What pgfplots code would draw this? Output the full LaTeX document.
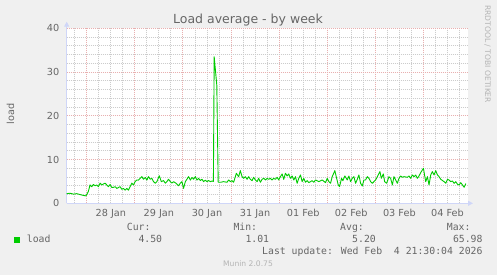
\documentclass[border=0pt]{standalone}
\usepackage{pgfplots}
\pgfplotsset{compat=1.18}
\usepackage{fontspec}
\setmainfont{DejaVu Sans}
\newfontfamily\monofont{DejaVu Sans Mono}
\usetikzlibrary{arrows.meta}
\definecolor{bg}{HTML}{F0F0F0}
\definecolor{fontc}{HTML}{666666}
\definecolor{axc}{HTML}{CFD6F8}
\definecolor{gridc}{HTML}{CCCCCC}
\definecolor{mgridc}{HTML}{E8B0B0}
\definecolor{loadc}{HTML}{00CC00}
\definecolor{wm}{HTML}{B4B4B4}
\pgfplotstableread{
h v
-10 2.2
-8.35 2.3
-6.7 2.1
-5 2.2
-3.35 2.0
-1.7 1.8
-0.35 1.7
0.8 2.7
1.65 4.2
2.5 3.8
3.3 4.3
4.2 4.0
5 4.2
5.8 3.8
6.65 4.6
7.5 4.2
8.3 4.4
9.15 4.6
10 4.2
10.8 3.8
11.65 4.3
12.5 3.6
13.3 3.65
14.15 3.8
15 3.4
15.8 3.6
16.65 3.8
17.5 3.2
18.3 3.4
19.15 3.0
20 3.4
20.8 3.0
21.65 3.8
22.5 4.6
23.3 4.2
24.15 4.95
25 5.33
25.8 5.3
26.65 5.7
27.5 6.1
28.3 5.5
29.2 5.9
30 5.3
30.8 6.1
31.7 5.5
32.5 5.7
33.3 4.95
34.2 4.6
35 4.95
36.2 6.3
37.2 4.95
38.3 5.2
39.2 4.6
40 4.95
40.8 5.5
41.7 4.95
42.5 4.6
43.3 4.95
44.2 4.7
45 4.4
45.8 4.0
46.7 4.6
47.5 4.95
48.3 3.4
49.2 4.95
50 5.5
50.8 6.1
51.7 5.3
52.5 5.9
53.3 5.5
54.2 6.1
55 5.3
55.8 5.7
56.7 5.2
57.5 5.5
58.3 4.95
59.2 5.3
60 4.95
60.8 5.2
61.7 4.95
62.5 5.1
63.2 5.0
63.6 33.5
64.3 30.0
64.9 27.0
65.6 4.8
66.65 4.8
68.3 4.95
70 4.8
70.8 5.33
71.65 4.95
72.5 5.18
73.3 4.8
74.65 6.86
75.8 6.09
76.65 7.47
77.5 6.09
78.3 5.71
79.15 6.09
80 5.48
80.8 6.09
81.65 5.48
82.5 5.18
83.3 5.94
84.15 5.33
85 4.95
85.8 5.71
86.65 4.8
87.5 5.48
88.3 5.71
89.15 5.33
90 5.71
90.8 5.48
91.65 5.71
92.5 5.33
93.3 5.71
94.15 5.48
95 5.94
95.8 5.33
96.65 6.09
97.5 6.71
98.3 5.48
99.15 6.86
100 6.25
100.8 6.71
101.65 5.71
102.5 6.25
103.3 5.33
104.15 6.09
105 4.57
105.8 5.71
106.65 6.48
107.5 4.95
108.3 5.71
109.15 4.8
110 5.18
110.8 4.72
112.5 5.18
113.3 4.8
114.15 5.33
115.8 4.95
117.5 5.33
119.15 4.72
120 5.71
120.8 4.95
121.65 4.57
122.5 6.09
123.8 7.47
124.5 6.09
125.5 4.19
126.15 3.81
127.15 5.71
127.8 5.18
128.8 6.25
130 5.33
130.8 6.25
131.65 4.95
132.5 5.71
133.3 6.09
134.15 4.57
135 5.48
135.8 6.48
136.65 4.57
137.5 3.96
138.3 5.33
139.15 5.33
140 6.09
140.8 5.71
141.65 4.95
142.5 4.57
144.15 5.33
145 6.09
146.3 7.24
147 5.71
148 6.71
148.65 4.95
149.65 4.57
150.8 6.09
151.65 5.71
152.5 4.19
153.3 6.09
154.15 5.33
155 4.57
155.8 5.71
156.65 6.25
157.5 5.94
158.3 6.09
160 5.94
160.8 6.25
161.65 5.71
162.5 6.48
163.3 6.09
164.15 6.48
165 5.71
165.8 6.25
166.65 7.01
168 8.0
169.15 4.95
170 6.09
170.8 4.19
171.65 6.48
172.5 7.24
173.3 6.48
174.15 7.47
175 6.48
175.8 6.09
176.65 5.48
178.3 4.95
179.15 4.57
180 5.48
180.8 5.33
181.65 4.95
182.5 5.10
183.3 4.57
184.15 4.95
185 4.34
185.8 4.19
186.65 4.72
187.5 4.19
188.3 3.65
189.15 4.5
}\loadtable
\begin{document}
\begin{tikzpicture}[x=1pt,y=1pt]
\fill[bg] (0,0) rectangle (497,275);
\begin{axis}[
  at={(66.7pt,71.7pt)}, anchor=south west,
  scale only axis, width=400.8pt, height=175pt,
  xmin=-10, xmax=190, ymin=0, ymax=40,
  axis background/.style={fill=white},
  axis x line*=bottom, axis y line*=left,
  axis line style={draw=axc, line width=1pt},
  every outer x axis line/.append style={-{Triangle[width=5pt,length=5pt]}, shorten >=-5.5pt},
  every outer y axis line/.append style={-{Triangle[width=5pt,length=5pt]}, shorten >=-6.6pt},
  xtick={0,24,...,168}, xticklabels={},
  minor xtick={-6,6,12,18,30,36,42,54,60,66,78,84,90,102,108,114,126,132,138,150,156,162,174,180,186},
  extra x ticks={12,36,60,84,108,132,156,180},
  extra x tick labels={28 Jan,29 Jan,30 Jan,31 Jan,01 Feb,02 Feb,03 Feb,04 Feb},
  extra x tick style={grid=none},
  ytick={0,10,...,40},
  minor ytick={2,4,6,8,12,14,16,18,22,24,26,28,32,34,36,38},
  grid=both,
  major grid style={draw=mgridc, dash pattern=on 1pt off 1pt, line width=0.9pt},
  minor grid style={draw=gridc, dash pattern=on 1pt off 1pt, line width=0.9pt},
  major tick length=0pt, minor tick length=0pt,
  tick label style={font=\fontsize{9.7}{11}\selectfont, text=fontc},
  yticklabel style={inner sep=0pt, xshift=-7.2pt},
  xticklabel style={inner sep=0pt, yshift=-6pt},
  /pgf/number format/assume math mode=true,
]
\addplot[loadc, line width=0.9pt, line join=round] table[x=h, y=v] {\loadtable};
\end{axis}
\node[anchor=base, inner sep=0pt, font=\fontsize{12.5}{14}\selectfont, text=fontc] at (248,251) {Load average - by week};
\node[rotate=90, anchor=base, inner sep=0pt, font=\fontsize{9.7}{11}\selectfont, text=fontc] at (14,161) {load};
\node[rotate=-90, anchor=base west, inner sep=0pt, font=\fontsize{7.6}{9}\selectfont, text=wm] at (485,270) {RRDTOOL / TOBI OETIKER};
\begin{scope}[every node/.style={inner sep=0pt, font=\monofont\fontsize{9.8}{11}\selectfont, text=fontc}]
\node[anchor=base west] at (126.7,44) {Cur:};
\node[anchor=base west] at (233.3,44) {Min:};
\node[anchor=base west] at (340,44) {Avg:};
\node[anchor=base west] at (446.7,44) {Max:};
\fill[loadc] (14,31.7) rectangle (20,37.7);
\node[anchor=base west] at (26.7,32.3) {load};
\node[anchor=base east] at (162.3,32.3) {4.50};
\node[anchor=base east] at (269.3,32.3) {1.01};
\node[anchor=base east] at (376,32.3) {5.20};
\node[anchor=base east] at (482.7,32.3) {65.98};
\node[anchor=base east] at (482.7,20.7) {Last update: Wed Feb\ \ 4 21:30:04 2026};
\end{scope}
\node[anchor=base, inner sep=0pt, font=\fontsize{7.6}{9}\selectfont, text=wm] at (248,8) {Munin 2.0.75};
\end{tikzpicture}
\end{document}
